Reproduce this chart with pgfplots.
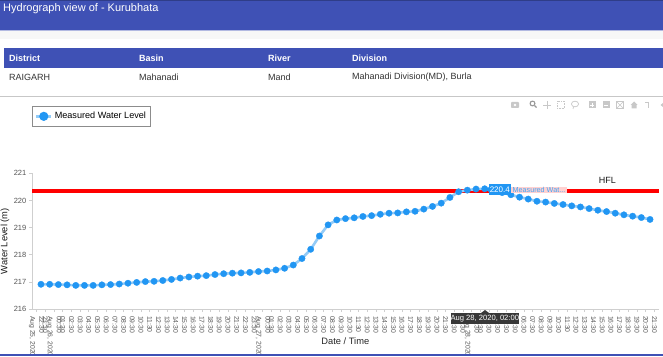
\documentclass[border=0pt]{standalone}
\usepackage{pgfplots}
\pgfplotsset{compat=1.18}
\usepackage{fontspec}
\setmainfont{Liberation Sans}
\definecolor{hdr}{HTML}{3F51B5}
\definecolor{wl}{HTML}{2196F3}
\definecolor{wll}{HTML}{93CBF7}
\definecolor{axg}{HTML}{CFCFCF}
\definecolor{tkt}{HTML}{555555}
\definecolor{icn}{HTML}{C8C8C8}
\begin{document}
\begin{tikzpicture}
\path[use as bounding box, clip] (0,0) rectangle (663pt,356pt);
\begin{scope}[x=1pt,y=-1pt,yshift=356pt]
\fill[white] (0,0) rectangle (663,356);
\fill[hdr] (0,0) rectangle (663,30);
\fill[hdr!75!black] (0,0) rectangle (663,1.5);
\fill[hdr!40!white] (0,30) rectangle (663,31);
\fill[black!3] (0,31) rectangle (663,39);
\node[anchor=west,text=white,font=\fontsize{11}{12}\selectfont,inner sep=0] at (3,8.5) {Hydrograph view of - Kurubhata};
\fill[hdr] (4,48) rectangle (663,68);
\foreach \x/\t in {9/District,139/Basin,268/River,352/Division}
  \node[anchor=west,text=white,font=\fontsize{9}{10}\bfseries\selectfont,inner sep=0] at (\x,58.5) {\t};
\foreach \x/\t in {9/RAIGARH,139/Mahanadi,268/Mand,352/{Mahanadi Division(MD), Burla}}
  \node[anchor=west,text=black!80,font=\fontsize{9}{10}\selectfont,inner sep=0] at (\x,77) {\t};
\fill[black!22] (0,96.5) rectangle (663,97.5);
% toolbar
\begin{scope}[icn]
\fill[rounded corners=.8] (511,102) rectangle (519,108); \fill[white] (515,105) circle (1.4);
\draw[line width=1.1,black!40] (532.5,103.5) circle (2.4); \draw[line width=1.2,black!40] (534.5,105.5)--(536.5,107.5);
\draw[line width=.7] (547,101)--(547,109) (543,105)--(551,105);
\draw[line width=.6,densely dotted] (557.5,101.5) rectangle (564.5,108.5);
\draw[line width=.7] (575,104) ellipse (3.6 and 2.8); \draw[line width=.7] (573.5,107)--(573,109);
\fill (588.5,101.5) rectangle (595.5,108.5); \draw[white,line width=.8] (590,105)--(594,105) (592,103)--(592,107);
\fill (602.5,101.5) rectangle (609.5,108.5); \draw[white,line width=.8] (604,105)--(608,105);
\draw[line width=.6] (617,102)--(623,108) (623,102)--(617,108) (616.5,101.5) rectangle (623.5,108.5);
\fill (630.5,105)--(634,101.5)--(637.5,105)--(636.5,105)--(636.5,108.5)--(631.5,108.5)--(631.5,105)--cycle;
\draw[line width=.7] (645,102)--(648,102) (648,102)--(648,108);
\fill (660.5,105)--(663,103)--(663,107)--cycle;
\end{scope}
\end{scope}

\begin{axis}[
  at={(32pt,47pt)}, anchor=south west,
  scale only axis, width=627pt, height=135.7pt,
  xmin=-1.03, xmax=71.03, ymin=216, ymax=221,
  axis lines=left, axis line style={-,draw=axg,line width=.8pt},
  tick style={draw=axg,line width=.7pt},
  major tick length=3pt, tick align=outside,
  ytick={216,217,218,219,220,221},
  /pgf/number format/assume math mode=true,
  yticklabel style={font=\fontsize{7.5}{8}\selectfont,text=tkt,inner sep=0pt,xshift=-2.5pt},
  xtick={-0.5,0.5,...,70.5},
  xticklabels={{22:30\\Aug 25, 2020},23:30,{00:30\\Aug 26, 2020},01:30,02:30,03:30,04:30,05:30,06:30,07:30,08:30,09:30,10:30,11:30,12:30,13:30,14:30,15:30,16:30,17:30,18:30,19:30,20:30,21:30,22:30,23:30,{00:30\\Aug 27, 2020},01:30,02:30,03:30,04:30,05:30,06:30,07:30,08:30,09:30,10:30,11:30,12:30,13:30,14:30,15:30,16:30,17:30,18:30,19:30,20:30,21:30,22:30,23:30,{00:30\\Aug 28, 2020},01:30,02:30,03:30,04:30,05:30,06:30,07:30,08:30,09:30,10:30,11:30,12:30,13:30,14:30,15:30,16:30,17:30,18:30,19:30,20:30,21:30},
  xticklabel style={rotate=-90,anchor=west,align=left,font=\fontsize{6.8}{9}\selectfont,text=tkt,inner sep=0pt,xshift=4pt},
  xlabel={Date / Time},
  xlabel style={at={(0.4997,0)},anchor=center,yshift=-31.7pt,font=\fontsize{9.3}{10}\selectfont,text=black!85},
  ylabel={Water Level (m)},
  ylabel style={at={(0,0.5)},anchor=center,rotate=0,yshift=27pt,font=\fontsize{9.3}{10}\selectfont,text=black!90},
  legend cell align=left,
  legend style={at={(0,1.496)},anchor=north west,draw=black!45,line width=.6pt,fill=white,
    font=\fontsize{9.1}{10}\selectfont,inner xsep=2.5pt,inner ysep=4pt,
    /tikz/every even column/.append style={column sep=1pt}},
  legend image code/.code={
    \draw[wll,line width=3pt] (0pt,0pt)--(15pt,0pt);
    \fill[wl] (7.5pt,0pt) circle (3.2pt);
  },
  clip=false,
]
\addplot[forget plot,red,line width=4.4pt] coordinates {(-1.03,220.34) (71.03,220.34)};
\addplot[wll,line width=2.6pt,mark=*,mark size=3.2pt,mark options={fill=wl,draw=wl,line width=.3pt}] coordinates {
(0,216.91)(1,216.91)(2,216.90)(3,216.89)(4,216.87)(5,216.87)(6,216.87)(7,216.89)(8,216.90)(9,216.92)
(10,216.95)(11,216.98)(12,217.01)(13,217.02)(14,217.05)(15,217.09)(16,217.14)(17,217.18)(18,217.21)(19,217.23)
(20,217.27)(21,217.30)(22,217.32)(23,217.33)(24,217.35)(25,217.38)(26,217.40)(27,217.44)(28,217.50)(29,217.62)
(30,217.86)(31,218.20)(32,218.69)(33,219.10)(34,219.28)(35,219.33)(36,219.36)(37,219.41)(38,219.44)(39,219.49)
(40,219.53)(41,219.54)(42,219.58)(43,219.60)(44,219.68)(45,219.78)(46,219.90)(47,220.11)(48,220.32)(49,220.38)
(50,220.42)(51,220.43)(52,220.37)(53,220.29)(54,220.21)(55,220.12)(56,220.05)(57,219.97)(58,219.94)(59,219.89)
(60,219.85)(61,219.80)(62,219.76)(63,219.70)(64,219.64)(65,219.59)(66,219.53)(67,219.47)(68,219.42)(69,219.37)
(70,219.30)};
\legend{Measured Water Level}
\node[font=\fontsize{9}{10}\selectfont,text=black!90,inner sep=0] at (axis cs:65.1,220.73) {HFL};
\end{axis}

\begin{scope}[x=1pt,y=-1pt,yshift=356pt]
% hover label
\fill[red!18!white] (510.7,187) rectangle (567,193.5);
\node[anchor=west,text=wl!85!white,font=\fontsize{7.2}{8}\selectfont,inner sep=0] at (512.5,190.2) {Measured Wat...};
\fill[wl] (489,184) rectangle (510.7,195);
\fill[wl] (486,189.5)--(489,187)--(489,192)--cycle;
\node[text=white,font=\fontsize{8}{9}\selectfont,inner sep=0] at (499.8,189.7) {220.4};
% tooltip
\fill[black!78] (450.7,313) rectangle (519,323.5);
\fill[black!78] (481,313)--(485,310)--(489,313)--cycle;
\node[text=white,font=\fontsize{7.6}{8}\selectfont,inner sep=0] at (484.8,318.3) {Aug 28, 2020, 02:00};
% bottom strip
\fill[hdr] (0,354) rectangle (663,356);
\end{scope}
\end{tikzpicture}
\end{document}
